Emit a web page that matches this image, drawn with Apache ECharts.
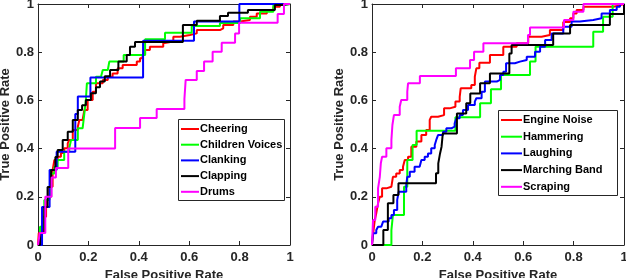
<!DOCTYPE html>
<html><head><meta charset="utf-8">
<script src="https://cdn.jsdelivr.net/npm/echarts@6/dist/echarts.min.js"></script>
<style>html,body{margin:0;padding:0;background:#fff}#c{width:626px;height:278px}</style>
</head><body><div id="c"></div><script>
// ---- data ----
const tickValues = [0, 0.2, 0.4, 0.6, 0.8, 1];
const xTitle = 'False Positive Rate';
const yTitle = 'True Positive Rate';
const leftNames = ['Cheering', 'Children Voices', 'Clanking', 'Clapping', 'Drums'];
const rightNames = ['Engine Noise', 'Hammering', 'Laughing', 'Marching Band', 'Scraping'];
const seriesColors = ['#ff0000', '#00ff00', '#0000ff', '#000000', '#ff00ff'];

// ROC points [FPR, TPR]
const cheering = [[0,0],[0.003,0.05],[0.019,0.117],[0.032,0.187],[0.045,0.242],[0.058,0.311],[0.065,0.353],[0.078,0.366],[0.091,0.382],[0.104,0.401],[0.118,0.422],[0.124,0.436],[0.138,0.477],[0.158,0.491],[0.164,0.519],[0.177,0.526],[0.184,0.56],[0.197,0.602],[0.217,0.636],[0.23,0.671],[0.257,0.685],[0.277,0.698],[0.296,0.712],[0.316,0.733],[0.336,0.747],[0.392,0.761],[0.405,0.775],[0.415,0.79],[0.425,0.809],[0.444,0.823],[0.497,0.837],[0.504,0.844],[0.537,0.864],[0.563,0.871],[0.603,0.878],[0.63,0.892],[0.722,0.899],[0.735,0.913],[0.775,0.927],[0.802,0.934],[0.841,0.947],[0.868,0.961],[0.908,0.975],[0.934,0.989],[0.96,1],[1,1]];
const childrenVoices = [[0,0],[0.008,0.076],[0.025,0.187],[0.041,0.2],[0.052,0.297],[0.065,0.325],[0.078,0.353],[0.104,0.387],[0.124,0.401],[0.131,0.436],[0.158,0.484],[0.177,0.491],[0.184,0.546],[0.19,0.602],[0.194,0.671],[0.23,0.698],[0.25,0.705],[0.257,0.726],[0.277,0.733],[0.283,0.761],[0.34,0.788],[0.425,0.854],[0.504,0.881],[0.61,0.909],[0.722,0.921],[0.802,0.941],[0.881,0.968],[0.934,0.996],[0.967,1],[1,1]];
const clanking = [[0,0],[0.016,0.158],[0.046,0.311],[0.074,0.387],[0.148,0.544],[0.158,0.616],[0.208,0.695],[0.417,0.848],[0.619,0.927],[0.799,1],[1,1]];
const clapping = [[0,0],[0.008,0.05],[0.025,0.158],[0.038,0.241],[0.052,0.311],[0.069,0.365],[0.078,0.394],[0.098,0.436],[0.118,0.47],[0.138,0.519],[0.158,0.56],[0.175,0.58],[0.19,0.602],[0.21,0.63],[0.23,0.655],[0.246,0.678],[0.265,0.7],[0.286,0.726],[0.319,0.761],[0.352,0.788],[0.365,0.823],[0.385,0.842],[0.575,0.913],[0.63,0.93],[0.722,0.95],[0.754,0.964],[0.833,0.975],[0.94,0.996],[0.968,1],[1,1]];
const drums = [[0,0],[0.007,0.05],[0.029,0.2],[0.054,0.28],[0.071,0.32],[0.12,0.4],[0.306,0.485],[0.405,0.527],[0.471,0.564],[0.581,0.606],[0.586,0.685],[0.63,0.722],[0.659,0.761],[0.693,0.802],[0.729,0.839],[0.782,0.878],[0.798,0.922],[0.951,0.959],[0.976,1],[1,1]];

const engineNoise = [[0,0],[0.004,0.041],[0.011,0.104],[0.017,0.132],[0.024,0.173],[0.031,0.2],[0.04,0.235],[0.057,0.242],[0.077,0.249],[0.083,0.283],[0.096,0.297],[0.11,0.311],[0.123,0.325],[0.13,0.353],[0.143,0.366],[0.156,0.408],[0.176,0.429],[0.196,0.456],[0.215,0.477],[0.229,0.519],[0.235,0.532],[0.262,0.539],[0.286,0.567],[0.308,0.574],[0.331,0.595],[0.348,0.615],[0.352,0.65],[0.394,0.664],[0.408,0.698],[0.414,0.733],[0.426,0.756],[0.468,0.788],[0.521,0.823],[0.574,0.837],[0.62,0.864],[0.673,0.871],[0.706,0.892],[0.759,0.925],[0.786,0.941],[0.799,0.961],[0.812,0.975],[0.839,0.989],[0.958,0.992],[0.971,1],[1,1]];
const hammering = [[0,0],[0.077,0.062],[0.083,0.124],[0.127,0.242],[0.14,0.353],[0.161,0.415],[0.177,0.474],[0.331,0.53],[0.429,0.588],[0.472,0.646],[0.512,0.705],[0.627,0.761],[0.649,0.823],[0.878,0.885],[0.917,0.947],[0.955,1],[1,1]];
const laughing = [[0,0],[0.004,0.049],[0.017,0.062],[0.024,0.076],[0.037,0.083],[0.044,0.097],[0.066,0.111],[0.077,0.124],[0.087,0.145],[0.1,0.187],[0.106,0.221],[0.136,0.249],[0.14,0.283],[0.15,0.304],[0.169,0.325],[0.189,0.332],[0.196,0.353],[0.209,0.366],[0.222,0.38],[0.235,0.401],[0.249,0.415],[0.255,0.436],[0.262,0.456],[0.282,0.47],[0.295,0.484],[0.315,0.491],[0.328,0.505],[0.335,0.526],[0.348,0.539],[0.361,0.56],[0.381,0.581],[0.408,0.595],[0.414,0.609],[0.435,0.636],[0.448,0.678],[0.495,0.685],[0.508,0.705],[0.521,0.719],[0.532,0.754],[0.567,0.761],[0.587,0.768],[0.614,0.781],[0.647,0.802],[0.667,0.823],[0.687,0.851],[0.713,0.878],[0.759,0.906],[0.792,0.927],[0.825,0.934],[0.878,0.941],[0.911,0.961],[0.944,0.975],[0.971,0.989],[0.984,1],[1,1]];
const marchingBand = [[0,0],[0.045,0.062],[0.063,0.173],[0.085,0.207],[0.105,0.256],[0.254,0.298],[0.263,0.339],[0.27,0.38],[0.276,0.408],[0.281,0.463],[0.337,0.546],[0.374,0.588],[0.39,0.629],[0.429,0.671],[0.468,0.712],[0.545,0.795],[0.554,0.83],[0.719,0.878],[0.786,0.913],[0.944,0.959],[1,1]];
const scraping = [[0,0],[0.004,0.104],[0.013,0.159],[0.024,0.235],[0.031,0.283],[0.035,0.339],[0.04,0.366],[0.057,0.401],[0.077,0.436],[0.081,0.498],[0.087,0.539],[0.11,0.574],[0.116,0.602],[0.14,0.636],[0.143,0.671],[0.19,0.701],[0.333,0.733],[0.389,0.768],[0.405,0.802],[0.442,0.837],[0.619,0.871],[0.627,0.902],[0.762,0.934],[0.799,0.968],[0.839,1],[1,1]];

const leftData = [cheering, childrenVoices, clanking, clapping, drums];
const rightData = [engineNoise, hammering, laughing, marchingBand, scraping];

// ---- styling / layout ----
const FONT = '"Liberation Sans", Arial, Helvetica, sans-serif';
const AX = '#262626';
function axis(pos, gridIndex, labels, name, nameGap) {
  const isX = pos === 'bottom' || pos === 'top';
  return {
    type: 'value', gridIndex: gridIndex, position: pos, min: 0, max: 1, interval: 0.2,
    axisLine: { show: true, onZero: false, lineStyle: { color: AX, width: 1 } },
    axisTick: { show: true, inside: true, length: 4, lineStyle: { color: AX, width: 1 } },
    axisLabel: { show: labels, color: AX, fontWeight: 'bold', fontSize: 13, fontFamily: FONT,
      margin: isX ? 6 : 4, showMinLabel: true, showMaxLabel: true,
      formatter: v => String(tickValues.find(t => Math.abs(t - v) < 1e-9) ?? v) },
    splitLine: { show: false },
    name: name || '', nameLocation: 'middle', nameGap: nameGap || 0,
    nameTextStyle: { color: AX, fontWeight: 'bold', fontSize: 13, fontFamily: FONT }
  };
}

const series = [];
leftNames.forEach((n, i) => series.push({
  name: n, type: 'line', xAxisIndex: 0, yAxisIndex: 0, data: leftData[i], step: 'end',
  symbol: 'none', color: seriesColors[i], lineStyle: { width: 2, color: seriesColors[i] }, animation: false
}));
rightNames.forEach((n, i) => series.push({
  name: n, type: 'line', xAxisIndex: 2, yAxisIndex: 2, data: rightData[i], step: 'end',
  symbol: 'none', color: seriesColors[i], lineStyle: { width: 2, color: seriesColors[i] }, animation: false
}));

function legend(names, left, top, gap) {
  return {
    data: names, orient: 'vertical', left: left, top: top, itemWidth: 18, itemHeight: 2, itemGap: gap,
    icon: 'rect', selectedMode: false, padding: 0,
    textStyle: { fontSize: 11, fontWeight: 'bold', color: '#000', fontFamily: FONT, lineHeight: 14, padding: [0, 0, 0, -4] }
  };
}

const chart = echarts.init(document.getElementById('c'), null, { renderer: 'canvas' });
chart.setOption({
  animation: false,
  backgroundColor: '#fff',
  grid: [
    { left: 38, top: 4, width: 252, height: 241, outerBoundsMode: 'none', containLabel: false },
    { left: 372, top: 4, width: 252, height: 241, outerBoundsMode: 'none', containLabel: false }
  ],
  xAxis: [
    axis('bottom', 0, true, xTitle, 21),
    axis('top', 0, false),
    axis('bottom', 1, true, xTitle, 21),
    axis('top', 1, false)
  ],
  yAxis: [
    axis('left', 0, true, yTitle, 22),
    axis('right', 0, false),
    axis('left', 1, true, yTitle, 23),
    axis('right', 1, false)
  ],
  legend: [
    legend(leftNames, 181, 122, 1.7),
    Object.assign(legend(rightNames, 501, 113, 2.7), { itemWidth: 21 })
  ],
  graphic: [
    { type: 'rect', z: 3, shape: { x: 178.5, y: 119.5, width: 106, height: 81 }, style: { fill: '#fff', stroke: AX, lineWidth: 1 } },
    { type: 'rect', z: 3, shape: { x: 498.5, y: 110.5, width: 119, height: 85 }, style: { fill: '#fff', stroke: AX, lineWidth: 1 } }
  ],
  series: series
});
</script></body></html>
